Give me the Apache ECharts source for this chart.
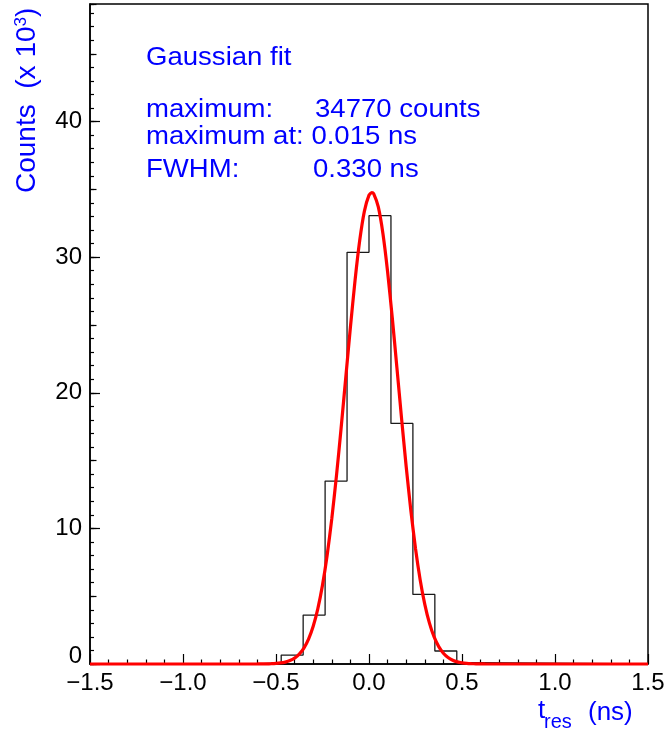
<!DOCTYPE html>
<html><head><meta charset="utf-8">
<script src="https://cdn.jsdelivr.net/npm/echarts@6/dist/echarts.min.js"></script>
<style>html,body{margin:0;padding:0;background:#fff}#c{width:670px;height:733px}</style>
</head><body><div id="c"></div>
<script>
// Histogram bin edges (ns) and counts (x 10^3)
const binEdges = [-0.59, -0.472, -0.354, -0.236, -0.118, 0.0, 0.118, 0.236, 0.354, 0.472, 0.59];
const binCounts = [0.10, 0.66, 3.61, 13.49, 30.36, 33.06, 17.74, 5.13, 0.96, 0.10];

// Gaussian fit curve (x in ns, y in 10^3 counts)
const fitX = [-1.5, -0.625, -0.6, -0.575, -0.55, -0.525, -0.5, -0.475, -0.45, -0.425, -0.4, -0.375, -0.35, -0.325, -0.3, -0.275, -0.25, -0.225, -0.2, -0.175, -0.15, -0.125, -0.1, -0.075, -0.05, -0.025, 0.0, 0.015, 0.025, 0.05, 0.075, 0.1, 0.125, 0.15, 0.175, 0.2, 0.225, 0.25, 0.275, 0.3, 0.325, 0.35, 0.375, 0.4, 0.425, 0.45, 0.475, 0.5, 0.525, 0.55, 0.575, 0.6, 0.625, 1.5];
const fitY = [0, 0.001, 0.0023, 0.0049, 0.0103, 0.0208, 0.0406, 0.0771, 0.1415, 0.2515, 0.4335, 0.7237, 1.1704, 1.8329, 2.7809, 4.0862, 5.8174, 8.0221, 10.7175, 13.869, 17.385, 21.110, 24.829, 28.291, 31.224, 33.382, 34.571, 34.77, 34.682, 33.702, 31.725, 28.928, 25.551, 21.863, 18.120, 14.547, 11.313, 8.523, 6.220, 4.397, 3.010, 1.997, 1.283, 0.7987, 0.4815, 0.2812, 0.1591, 0.0872, 0.0463, 0.0238, 0.0118, 0.0057, 0.0026, 0];

// Axis ranges / ticks
const xRange = [-1.5, 1.5];
const xMajor = 0.5;
const yRange = [0, 48.67];
const yTickIntervals = [10, 5, 1];

// Annotation text
const fitTitle = 'Gaussian fit';
const fitLines = [['maximum:', '34770 counts'], ['maximum at: 0.015 ns', ''], ['FWHM:', '0.330 ns']];

const FONT = '"Liberation Sans", Arial, Helvetica, sans-serif';
const BLUE = '#0000ff';

const histData = [[xRange[0], 0]];
binEdges.forEach((e, i) => histData.push([e, i < binCounts.length ? binCounts[i] : 0]));
histData.push([xRange[1], 0]);

const fitData = fitX.map((x, i) => [x, fitY[i]]);

const tickLens = [10, 6.5, 4];
const yAxes = yTickIntervals.map((iv, k) => ({
  type: 'value', min: yRange[0], max: yRange[1], interval: iv, position: 'left', offset: 0,
  axisLine: { show: k === 0, onZero: false, lineStyle: { color: '#000', width: 1.5 } },
  axisTick: { show: true, inside: true, length: tickLens[k], lineStyle: { color: '#000', width: 1.2 } },
  axisLabel: k === 0 ? {
    show: true, showMaxLabel: false, margin: 8, color: '#000', fontSize: 24, fontFamily: FONT,
    formatter: v => (Math.abs(v % 10) < 1e-6 ? (v === 0 ? '{z|0}' : String(v)) : ''),
    rich: { z: { fontSize: 24, fontFamily: FONT, color: '#000', padding: [0, 0, 16, 0] } }
  } : { show: false },
  splitLine: { show: false }
}));

const graphic = [
  { type: 'text', x: 146, y: 57.5, scaleX: 1.06, style: { text: fitTitle, fill: BLUE, font: '26px ' + FONT, verticalAlign: 'middle', textAlign: 'left' } },
  { type: 'text', x: 146, y: 109.5, scaleX: 1.06, style: { text: fitLines[0][0], fill: BLUE, font: '26px ' + FONT, verticalAlign: 'middle' } },
  { type: 'text', x: 315, y: 109.5, scaleX: 1.06, style: { text: fitLines[0][1], fill: BLUE, font: '26px ' + FONT, verticalAlign: 'middle' } },
  { type: 'text', x: 146, y: 136.5, scaleX: 1.06, style: { text: fitLines[1][0], fill: BLUE, font: '26px ' + FONT, verticalAlign: 'middle' } },
  { type: 'text', x: 146, y: 169.5, scaleX: 1.06, style: { text: fitLines[2][0], fill: BLUE, font: '26px ' + FONT, verticalAlign: 'middle' } },
  { type: 'text', x: 313, y: 169.5, scaleX: 1.06, style: { text: fitLines[2][1], fill: BLUE, font: '26px ' + FONT, verticalAlign: 'middle' } },
  // y axis title
  { type: 'text', x: 27, y: 193, rotation: Math.PI / 2, style: {
      text: '{a|Counts  (x 10}{s|3}{a|)}', fill: BLUE, textAlign: 'left', verticalAlign: 'middle',
      rich: { a: { fontSize: 28, fontFamily: FONT, fill: BLUE, color: BLUE }, s: { fontSize: 17, fontFamily: FONT, color: BLUE, fill: BLUE, verticalAlign: 'top', padding: [0, 0, 12, 0] } } } },
  // x axis title
  { type: 'text', x: 538, y: 711, style: { text: 't', fill: BLUE, font: '26px ' + FONT, verticalAlign: 'middle' } },
  { type: 'text', x: 544, y: 722, style: { text: 'res', fill: BLUE, font: '20px ' + FONT, verticalAlign: 'middle' } },
  { type: 'text', x: 588, y: 713, style: { text: '(ns)', fill: BLUE, font: '26px ' + FONT, verticalAlign: 'middle' } }
];

const chart = echarts.init(document.getElementById('c'), null, { renderer: 'canvas' });
chart.setOption({
  animation: false,
  backgroundColor: '#fff',
  grid: { left: 90, right: 22, top: 4, bottom: 69, show: true, borderColor: '#000', borderWidth: 1.5, backgroundColor: 'transparent' },
  xAxis: {
    type: 'value', min: xRange[0], max: xRange[1], interval: xMajor,
    axisLine: { onZero: false, lineStyle: { color: '#000', width: 1.5 } },
    axisTick: { inside: true, length: 10, lineStyle: { color: '#000', width: 1.2 } },
    minorTick: { show: true, splitNumber: 5, length: 4.5, lineStyle: { color: '#000', width: 1.2 } },
    axisLabel: { margin: 7, color: '#000', fontSize: 24, fontFamily: FONT,
      formatter: v => (v < 0 ? '\u2212' : '') + Math.abs(v).toFixed(1) },
    splitLine: { show: false }, minorSplitLine: { show: false }
  },
  yAxis: yAxes,
  series: [
    { type: 'line', name: 'hist', data: histData, step: 'end', symbol: 'none', yAxisIndex: 0,
      lineStyle: { color: '#1a1a1a', width: 1.3 }, z: 3 },
    { type: 'line', name: 'fit', data: fitData, symbol: 'none', yAxisIndex: 0, clip: false, smooth: 0.2,
      lineStyle: { color: '#ff0000', width: 3.2 }, z: 4 }
  ],
  graphic: graphic
});
</script></body></html>
